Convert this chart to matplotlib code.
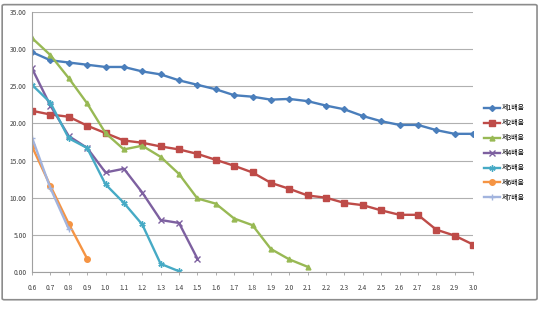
import matplotlib.pyplot as plt
from matplotlib.patches import FancyBboxPatch

plt.rcParams['font.family'] = ['Noto Sans CJK KR', 'DejaVu Sans']

# x 카테고리
x_labels = ['0.6', '0.7', '0.8', '0.9', '1.0', '1.1', '1.2', '1.3', '1.4', '1.5',
            '1.6', '1.7', '1.8', '1.9', '2.0', '2.1', '2.2', '2.3', '2.4', '2.5',
            '2.6', '2.7', '2.8', '2.9', '3.0']

h1 = [29.6, 28.5, 28.2, 27.9, 27.6, 27.6, 27.0, 26.6, 25.8, 25.2,
      24.6, 23.8, 23.6, 23.2, 23.3, 23.0, 22.4, 21.9, 21.0, 20.3,
      19.8, 19.8, 19.1, 18.6, 18.6]
h2 = [21.7, 21.2, 20.9, 19.7, 18.7, 17.7, 17.4, 16.9, 16.5, 15.9,
      15.1, 14.3, 13.4, 12.0, 11.2, 10.3, 10.0, 9.3, 9.0, 8.3,
      7.7, 7.7, 5.7, 4.9, 3.7]
h3 = [31.5, 29.2, 26.1, 22.7, 18.7, 16.5, 17.0, 15.5, 13.2, 9.9,
      9.2, 7.2, 6.3, 3.1, 1.7, 0.7]
h4 = [27.4, 22.4, 18.3, 16.7, 13.4, 13.9, 10.7, 7.0, 6.6, 1.8]
h5 = [25.2, 22.8, 18.0, 16.7, 11.8, 9.3, 6.4, 1.1, 0.1]
h6 = [16.9, 11.6, 6.5, 1.8]
h7 = [18.1, 11.3, 5.8]

series = [h1, h2, h3, h4, h5, h6, h7]
names = ['제1배음', '제2배음', '제3배음', '제4배음', '제5배음', '제6배음', '제7배음']
colors = ['#4A7EBB', '#BE4B48', '#98B954', '#7D60A0', '#46AAC5', '#F59443', '#A2B4DE']
markers = ['D', 's', '^', 'x', (6, 2, 0), 'o', '+']
msizes = [3, 4.5, 3.5, 4, 4.5, 4, 5]

fig = plt.figure(figsize=(5.43, 3.09), dpi=100)
ax = fig.add_axes([32 / 543, 1 - 272 / 309, (473 - 32) / 543, (272 - 12) / 309])

for ys, name, c, m, ms in zip(series, names, colors, markers, msizes):
    ax.plot(range(len(ys)), ys, color=c, marker=m, markersize=ms, lw=1.7,
            markeredgewidth=1, label=name)

ax.set_xlim(0, len(x_labels) - 1)
ax.set_ylim(0, 35)
ax.set_xticks(range(len(x_labels)))
ax.set_xticklabels(x_labels, fontsize=4.8, color='#404040')
ax.set_yticks(range(0, 36, 5))
ax.set_yticklabels([f'{v:.2f}' for v in range(0, 36, 5)], fontsize=4.8, color='#404040')
ax.grid(axis='y', color='#b0b0b0', lw=0.8)
ax.set_axisbelow(True)
for s in ['top', 'right']:
    ax.spines[s].set_visible(False)
for s in ['left', 'bottom']:
    ax.spines[s].set_color('#a0a0a0')
    ax.spines[s].set_linewidth(0.8)
ax.tick_params(axis='x', length=2.5, width=0.6, color='#a0a0a0', pad=6)
ax.tick_params(axis='y', length=0, pad=4)

ax.legend(loc='center left', bbox_to_anchor=(478 / 543, 1 - 153 / 309),
          bbox_transform=fig.transFigure, frameon=False, fontsize=5,
          handlelength=2.2, labelspacing=1.0, handletextpad=0.3)

frame = FancyBboxPatch((0.004, 0.03), 0.985, 0.955, boxstyle='round,pad=0,rounding_size=0.004',
                       transform=fig.transFigure, fill=False, edgecolor='#8c8c8c', lw=1.2)
fig.patches.append(frame)

fig.savefig('out.png', dpi=100)
